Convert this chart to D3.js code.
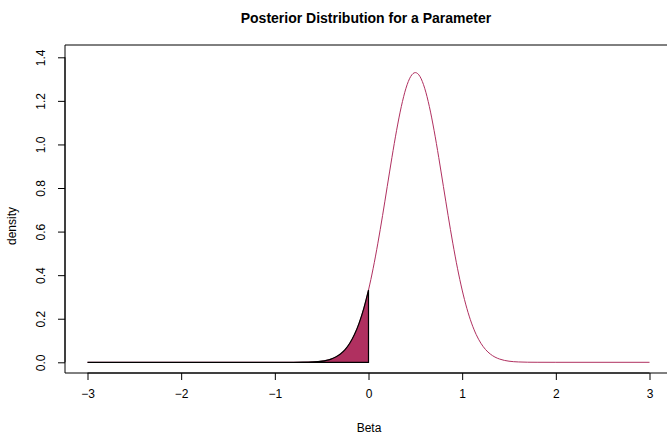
<!DOCTYPE html>
<html>
<head>
<meta charset="utf-8">
<script src="https://cdn.jsdelivr.net/npm/d3@7"></script>
<style>
  body { margin: 0; background: #fff; }
  svg { display: block; font-family: "Liberation Sans", Arial, sans-serif; }
</style>
</head>
<body>
<div id="chart"></div>
<script>
// values
const betaValues = [-3, -2, -1, -0.8, -0.7, -0.6, -0.5, -0.45, -0.4, -0.35, -0.3, -0.25, -0.2, -0.15, -0.1, -0.05, 0,
  0.05, 0.1, 0.15, 0.2, 0.25, 0.3, 0.35, 0.4, 0.45, 0.5, 0.55, 0.6, 0.65, 0.7, 0.75, 0.8, 0.85, 0.9, 0.95, 1,
  1.05, 1.1, 1.15, 1.2, 1.25, 1.3, 1.35, 1.4, 1.45, 1.5, 1.6, 1.7, 1.8, 2, 3];
const densityValues = [0, 0, 0, 0.0001, 0.0004, 0.0016, 0.0051, 0.0088, 0.0148, 0.024, 0.038, 0.0584, 0.0874, 0.1272, 0.18, 0.2477, 0.3316,
  0.4317, 0.5467, 0.6733, 0.8066, 0.9398, 1.0648, 1.1735, 1.2579, 1.3115, 1.3298, 1.3115, 1.2579, 1.1735, 1.0648, 0.9398, 0.8066, 0.6733, 0.5467, 0.4317, 0.3316,
  0.2477, 0.18, 0.1272, 0.0874, 0.0584, 0.038, 0.024, 0.0148, 0.0088, 0.0051, 0.0016, 0.0004, 0.0001, 0, 0];
const xTicks = [-3, -2, -1, 0, 1, 2, 3];
const yTicks = [0, 0.2, 0.4, 0.6, 0.8, 1.0, 1.2, 1.4];
const shadeUpTo = 0;

const width = 667, height = 435;
const box = { left: 65, right: 667.5, top: 45, bottom: 373 };

const data = betaValues.map((b, i) => ({ x: b, y: densityValues[i] }));

const svg = d3.select('#chart').append('svg')
  .attr('width', width)
  .attr('height', height);

const x = d3.scaleLinear().domain([-3, 3]).range([87.5, 649.5]);
const y = d3.scaleLinear().domain([0, 1.4]).range([362.3, 57.3]);

const line = d3.line()
  .x(d => x(d.x))
  .y(d => y(d.y))
  .curve(d3.curveMonotoneX);

// full curve
svg.append('path')
  .datum(data)
  .attr('d', line)
  .attr('fill', 'none')
  .attr('stroke', '#B03060')
  .attr('stroke-width', 1);

// shaded tail
const tail = data.filter(d => d.x <= shadeUpTo);
const tailPath = line(tail) + `L${x(shadeUpTo)},${y(0)}L${x(tail[0].x)},${y(0)}Z`;
svg.append('path')
  .attr('d', tailPath)
  .attr('fill', '#B03060')
  .attr('stroke', '#000')
  .attr('stroke-width', 1.2);

// box
svg.append('path')
  .attr('d', `M${box.right},${box.top}H${box.left}V${box.bottom}H${box.right}`)
  .attr('fill', 'none')
  .attr('stroke', '#000')
  .attr('stroke-width', 1);

// x axis
const xAxis = svg.append('g')
  .attr('transform', `translate(0,${box.bottom})`)
  .call(d3.axisBottom(x).tickValues(xTicks).tickSize(7).tickSizeOuter(0)
    .tickFormat(d => d3.format('')(d).replace('-', '\u2212')));
xAxis.select('.domain').attr('d', `M${x(-3)},0H${x(3)}`);
xAxis.selectAll('text').attr('font-size', 12).attr('font-family', null).attr('dy', '1.25em');

// y axis
const yAxis = svg.append('g')
  .attr('transform', `translate(${box.left},0)`)
  .call(d3.axisLeft(y).tickValues(yTicks).tickSize(7).tickSizeOuter(0)
    .tickFormat(d3.format('.1f')));
yAxis.select('.domain').attr('d', `M0,${y(0)}V${y(1.4)}`);
yAxis.selectAll('text')
  .attr('font-size', 12)
  .attr('font-family', null)
  .attr('x', null).attr('dy', null)
  .attr('text-anchor', 'middle')
  .attr('transform', 'translate(-23,0) rotate(-90)')
  .attr('dominant-baseline', 'middle');

// titles
svg.append('text')
  .attr('x', 366).attr('y', 23)
  .attr('text-anchor', 'middle')
  .attr('font-size', 14)
  .attr('font-weight', 'bold')
  .text('Posterior Distribution for a Parameter');

svg.append('text')
  .attr('x', 369).attr('y', 432)
  .attr('text-anchor', 'middle')
  .attr('font-size', 12)
  .text('Beta');

svg.append('text')
  .attr('transform', 'translate(16,226) rotate(-90)')
  .attr('text-anchor', 'middle')
  .attr('font-size', 12)
  .text('density');
</script>
</body>
</html>
